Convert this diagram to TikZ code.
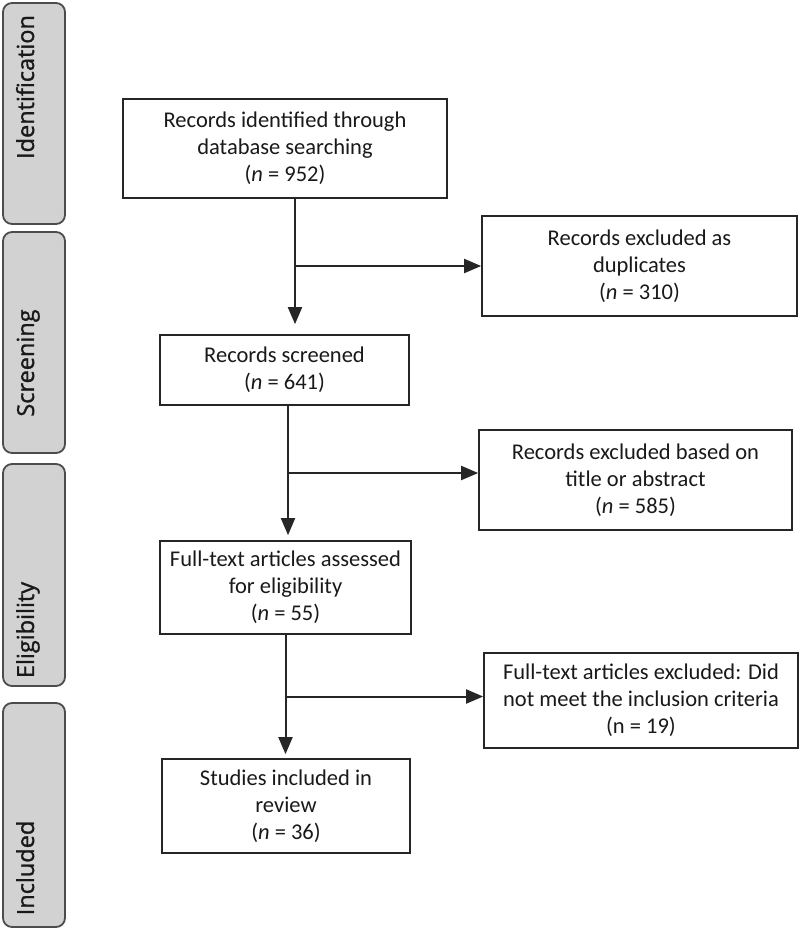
\documentclass[tikz,border=0pt]{standalone}
\usepackage{fontspec}
\setmainfont{Carlito}
\newfontfamily\etapafont[FakeBold=1.2]{Open Sans}
\usetikzlibrary{arrows.meta}

\begin{document}
\begin{tikzpicture}[x=1pt, y=-1pt,
    caja/.style={rectangle, draw=black!85, line width=1.7pt, align=center, inner sep=0pt, font=\fontsize{22.5}{27}\selectfont, text=black!90},
    etapa/.style={rectangle, draw=black!70, line width=1.8pt, rounded corners=9pt, fill=gray!35, minimum width=62pt},
    etiqueta/.style={rotate=90, anchor=base, font=\etapafont\fontsize{23.5}{26}\selectfont, text=black!90},
    flujo/.style={-{Triangle[length=17pt, width=14pt]}, line width=2pt, black!85},
]

\useasboundingbox (0,0) rectangle (800,930);

% etapas
\node (etident) [etapa, minimum height=221pt] at (34,113.5) {};
\node (etscreen) [etapa, minimum height=221pt] at (34,342.5) {};
\node (etelig) [etapa, minimum height=222pt] at (34,575) {};
\node (etincl) [etapa, minimum height=224pt] at (34,815) {};

\node (txident) [etiqueta] at (34,87) {Identification};
\node (txscreen) [etiqueta] at (34,363) {Screening};
\node (txelig) [etiqueta] at (34,630) {Eligibility};
\node (txincl) [etiqueta] at (34,868) {Included};

% cajas principales
\node (ident) [caja, minimum width=324pt, minimum height=99pt] at (285,148.5) {Records identified through\\ database searching\\ (\textit{n} = 952)};

\node (dupl) [caja, minimum width=315pt, minimum height=100pt] at (639.5,266) {Records excluded as\\ duplicates\\ (\textit{n} = 310)};

\node (screen) [caja, minimum width=249pt, minimum height=70pt] at (284.5,370) {Records screened\\ (\textit{n} = 641)};

\node (excl2) [caja, minimum width=313pt, minimum height=100pt] at (635.5,480) {Records excluded based on\\ title or abstract\\ (\textit{n} = 585)};

\node (full) [caja, minimum width=251pt, minimum height=93pt] at (285.5,587.5) {Full-text articles assessed\\ for eligibility\\ (\textit{n} = 55)};

\node (excl3) [caja, minimum width=314pt, minimum height=95pt] at (641,700.5) {Full-text articles excluded: Did\\ not meet the inclusion criteria\\ (n = 19)};

\node (studies) [caja, minimum width=248pt, minimum height=94pt] at (286,806) {Studies included in\\ review\\ (\textit{n} = 36)};

% flechas
\coordinate (c1) at ([xshift=10pt]ident.south);
\draw [flujo, shorten >=10pt] (c1) -- (c1 |- screen.north);
\draw [flujo] (c1 |- dupl.west) -- (dupl.west);

\coordinate (c2) at ([xshift=3.5pt]screen.south);
\coordinate (r2) at ([yshift=7pt]excl2.west);
\draw [flujo, shorten >=5pt] (c2) -- (c2 |- full.north);
\draw [flujo] (c2 |- r2) -- (r2);

\coordinate (r3) at ([yshift=4pt]excl3.west);
\draw [flujo, shorten >=4pt] (full.south) -- (full.south |- studies.north);
\draw [flujo] (full.south |- r3) -- (r3);

\end{tikzpicture}
\end{document}
